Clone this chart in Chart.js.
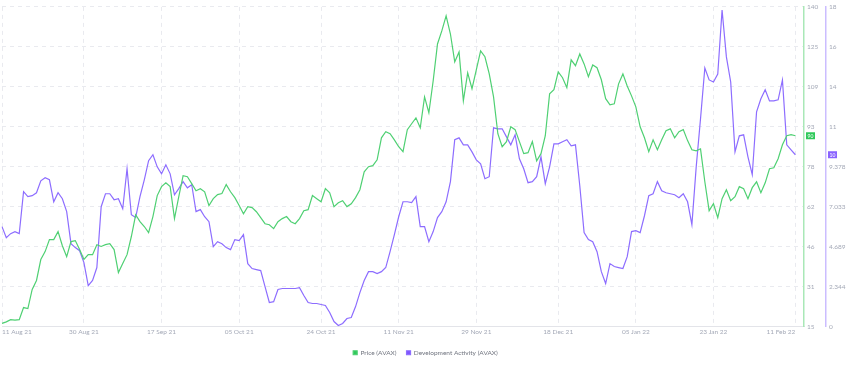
<!DOCTYPE html>
<html>
<head>
<meta charset="utf-8">
<script src="https://cdn.jsdelivr.net/npm/chart.js@4/dist/chart.umd.min.js"></script>
<style>
  html, body { margin: 0; padding: 0; background: #fff; }
  #wrap { width: 850px; height: 366px; position: relative; }
</style>
</head>
<body>
<div id="wrap"><canvas id="main-chart"></canvas></div>
<script>
// one value per day, 11 Aug 21 -> 11 Feb 22
const priceAvax = [16.2, 16.8, 17.7, 17.5, 17.7, 22.4, 22.0, 29.5, 33.0, 41.2,
    44.3, 49.0, 49.0, 52.1, 46.6, 42.3, 48.2, 48.6, 45.1, 41.2,
    43.1, 43.1, 47.0, 46.3, 47.0, 47.4, 45.1, 36.1, 39.6, 43.1,
    50.2, 58.7, 56.0, 54.1, 51.7, 58.0, 66.2, 69.7, 71.2, 69.7,
    57.2, 65.8, 74.0, 73.6, 70.9, 68.1, 68.9, 67.7, 62.3, 65.0,
    66.6, 67.0, 70.5, 67.7, 65.4, 62.3, 59.1, 61.9, 61.5, 59.9,
    57.6, 55.2, 54.8, 53.3, 56.0, 57.2, 58.0, 56.0, 55.2, 57.2,
    60.3, 60.7, 66.2, 65.0, 63.8, 68.9, 67.3, 61.9, 63.4, 64.2,
    61.9, 63.0, 65.4, 68.5, 75.5, 77.5, 77.9, 80.2, 88.8, 91.2,
    90.4, 88.0, 85.3, 83.4, 92.0, 94.3, 96.6, 92.7, 104.8, 98.6,
    111.1, 125.5, 130.6, 136.5, 129.4, 118.5, 122.4, 103.3, 114.2, 108.0,
    115.4, 122.8, 120.5, 113.8, 104.8, 90.4, 85.3, 87.3, 93.1, 92.0,
    87.3, 82.6, 83.0, 87.3, 79.8, 82.6, 89.6, 106.0, 107.6, 114.6,
    112.3, 108.4, 119.3, 117.0, 121.6, 117.7, 112.7, 117.3, 116.2, 111.5,
    104.1, 101.7, 102.1, 109.9, 113.8, 109.1, 105.2, 100.9, 93.1, 88.8,
    83.4, 88.0, 84.1, 88.0, 91.6, 92.3, 88.8, 91.2, 92.0, 87.7,
    84.1, 83.7, 84.5, 71.6, 60.3, 63.0, 57.6, 65.0, 68.5, 64.2,
    65.8, 69.7, 68.9, 65.0, 69.3, 71.6, 67.3, 71.2, 76.7, 77.1,
    80.6, 86.1, 89.6, 90.0, 89.6];

const devActivity = [5.86, 5.21, 5.45, 5.57, 5.45, 7.91, 7.62, 7.68, 7.85, 8.55,
    8.73, 8.61, 7.32, 7.85, 7.50, 6.74, 4.86, 4.63, 4.45, 3.75,
    2.40, 2.70, 3.46, 7.03, 7.79, 7.79, 7.44, 7.50, 6.91, 9.26,
    6.56, 6.39, 7.62, 8.61, 9.73, 10.08, 9.37, 8.96, 9.49, 8.96,
    7.73, 8.09, 8.50, 8.14, 8.32, 6.74, 6.86, 6.44, 6.15, 4.69,
    4.98, 4.86, 4.63, 4.51, 5.10, 5.04, 5.39, 3.69, 3.40, 3.34,
    3.28, 2.34, 1.41, 1.46, 2.17, 2.23, 2.23, 2.23, 2.23, 2.28,
    1.82, 1.41, 1.35, 1.35, 1.29, 1.23, 0.82, 0.29, 0.06, 0.18,
    0.47, 0.53, 1.17, 1.99, 2.70, 3.22, 3.22, 3.11, 3.22, 3.46,
    4.39, 5.39, 6.44, 7.32, 7.32, 7.27, 7.62, 5.86, 5.86, 4.98,
    5.57, 6.39, 6.74, 7.32, 8.50, 10.96, 11.07, 10.66, 10.66, 10.25,
    9.78, 9.55, 8.67, 8.79, 11.66, 11.60, 11.60, 11.13, 10.66, 11.25,
    9.84, 9.26, 8.44, 8.50, 8.79, 9.96, 8.38, 9.37, 10.72, 10.72,
    10.84, 10.96, 10.60, 10.66, 8.26, 5.51, 5.10, 4.98, 4.39, 3.22,
    2.52, 3.69, 3.52, 3.46, 3.40, 4.10, 5.57, 5.62, 5.51, 6.50,
    7.68, 7.79, 8.50, 7.97, 7.85, 7.79, 7.73, 7.56, 7.79, 7.32,
    5.98, 9.37, 12.19, 15.17, 14.47, 14.35, 14.82, 18.57, 15.82, 14.35,
    10.25, 11.19, 11.25, 9.96, 8.91, 12.60, 13.36, 13.89, 13.24, 13.24,
    13.30, 14.47, 10.66, 10.37, 10.08];

const xTickLabels = ['11 Aug 21', '30 Aug 21', '17 Sep 21', '05 Oct 21', '24 Oct 21', '11 Nov 21',
    '29 Nov 21', '18 Dec 21', '05 Jan 22', '23 Jan 22', '11 Feb 22'];
const priceTickLabels = ['15', '31', '46', '62', '78', '93', '109', '125', '140'];
const devTickLabels = ['0', '2.344', '4.689', '7.033', '9.378', '11', '14', '16', '18'];

// daily categories, two spare days at the end like the original's right margin
const monthNames = ['Jan', 'Feb', 'Mar', 'Apr', 'May', 'Jun', 'Jul', 'Aug', 'Sep', 'Oct', 'Nov', 'Dec'];
const dates = [];
for (let i = 0; i < priceAvax.length + 2; i++) {
    const d = new Date(Date.UTC(2021, 7, 11) + i * 86400000);
    dates.push(String(d.getUTCDate()).padStart(2, '0') + ' ' + monthNames[d.getUTCMonth()] + ' ' + String(d.getUTCFullYear()).slice(2));
}

const tickColor = '#a4a9b7';
const gridColor = '#e9eaef';
const smallFont = { family: 'Lato', size: 6.5 };

const lastValueBadges = {
    id: 'lastValueBadges',
    afterDraw(chart) {
        const ctx = chart.ctx;
        chart.data.datasets.forEach(ds => {
            const scale = chart.scales[ds.yAxisID];
            const v = ds.data[ds.data.length - 1];
            const y = scale.getPixelForValue(v);
            const x = scale.left + 2;
            ctx.save();
            ctx.fillStyle = ds.badgeColor;
            ctx.fillRect(x, y - 3.5, 9, 7);
            ctx.fillStyle = '#fff';
            ctx.font = '5px Lato';
            ctx.textAlign = 'center';
            ctx.textBaseline = 'middle';
            ctx.fillText(String(Math.round(v)), x + 4.5, y + 0.5);
            ctx.restore();
        });
    }
};

new Chart(document.getElementById('main-chart'), {
    type: 'line',
    data: {
        labels: dates,
        datasets: [{
            label: 'Price (AVAX)',
            data: priceAvax,
            yAxisID: 'y',
            borderColor: '#4fd073',
            backgroundColor: '#2fc95a',
            badgeColor: '#2fc95a',
            borderWidth: 1.2,
            pointRadius: 0,
            tension: 0
        }, {
            label: 'Development Activity (AVAX)',
            data: devActivity,
            yAxisID: 'y1',
            borderColor: '#8d6dff',
            backgroundColor: '#7f55ff',
            badgeColor: '#8a63ff',
            borderWidth: 1.2,
            pointRadius: 0,
            tension: 0
        }]
    },
    options: {
        responsive: true,
        maintainAspectRatio: false,
        animation: false,
        layout: { padding: { top: 5, left: 1, right: 0, bottom: 0 } },
        plugins: {
            legend: {
                position: 'bottom',
                labels: {
                    boxWidth: 4,
                    boxHeight: 4,
                    padding: 10,
                    color: '#70747f',
                    font: smallFont
                }
            },
            tooltip: { enabled: false }
        },
        scales: {
            x: {
                afterFit: scale => { scale.height = 13; },
                grid: { color: gridColor, drawTicks: false },
                border: { color: '#e3e4e9', dash: [4, 4] },
                ticks: {
                    autoSkip: false,
                    maxRotation: 0,
                    align: 'inner',
                    padding: 2,
                    color: tickColor,
                    font: smallFont,
                    callback: function (value) {
                        const l = this.getLabelForValue(value);
                        return xTickLabels.includes(l) ? l : null;
                    }
                }
            },
            y: {
                position: 'right',
                min: 15,
                max: 140,
                afterFit: scale => { scale.width = 22; },
                grid: { color: gridColor, drawTicks: false },
                border: { color: '#a9e8b7', width: 1.5, dash: [4, 4] },
                ticks: {
                    count: 9,
                    padding: 3,
                    color: tickColor,
                    font: smallFont,
                    callback: (v, i) => priceTickLabels[i]
                }
            },
            y1: {
                position: 'right',
                min: 0,
                max: 18.756,
                afterFit: scale => { scale.width = 24; },
                grid: { display: false, drawTicks: false },
                border: { color: '#cbbdff', width: 1.5 },
                ticks: {
                    count: 9,
                    padding: 3,
                    color: tickColor,
                    font: smallFont,
                    callback: (v, i) => devTickLabels[i]
                }
            }
        }
    },
    plugins: [lastValueBadges]
});
</script>
</body>
</html>
